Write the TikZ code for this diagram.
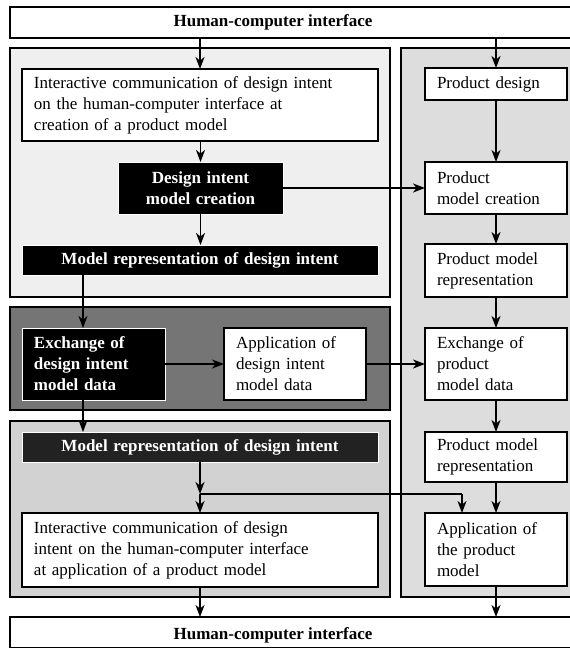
\documentclass[tikz,border=0pt]{standalone}
\usepackage{fontspec}
\setmainfont{Liberation Serif}
\usetikzlibrary{arrows.meta}

\begin{document}
\begin{tikzpicture}[x=1pt,y=-1pt,
  every node/.style={font=\fontsize{17}{21}\selectfont, inner ysep=0pt, outer sep=0pt},
  panel/.style={draw=black, line width=1.2pt, anchor=north west, inner sep=0pt},
  wbox/.style={draw=black, fill=white, line width=1.4pt, anchor=north west, align=left, inner xsep=12pt},
  bbox/.style={draw=white, fill=black, text=white, line width=1pt, anchor=north west,
    font=\fontsize{17}{21}\selectfont\bfseries, inner xsep=12pt},
  hcibox/.style={draw=black, fill=white, line width=1.2pt, anchor=north west, inner sep=0pt},
  arr/.style={-{Stealth[length=12pt,width=9pt,inset=3.5pt]}, line width=1.4pt},
  ln/.style={line width=1.4pt}]

\useasboundingbox (0,0) rectangle (570,648);
\fill[white] (0,0) rectangle (570,648);

% interfaces at top and bottom
\node[hcibox, minimum width=580pt, minimum height=31pt] (hcitop) at (10,7) {};
\node[font=\fontsize{17}{21}\selectfont\bfseries] (hcitoptxt) at (273,22) {Human-computer interface};
\node[hcibox, minimum width=580pt, minimum height=31pt] (hcibot) at (10,617) {};
\node[font=\fontsize{17}{21}\selectfont\bfseries] (hcibottxt) at (273,635) {Human-computer interface};

% grey panels
\node[panel, fill={rgb,255:red,239;green,239;blue,239}, minimum width=380pt, minimum height=249pt] (pcreate) at (10,48) {};
\node[panel, fill={rgb,255:red,117;green,117;blue,117}, minimum width=380pt, minimum height=103pt] (pexch) at (10,307) {};
\node[panel, fill={rgb,255:red,210;green,210;blue,210}, minimum width=380pt, minimum height=176pt] (papply) at (10,421) {};
\node[panel, fill={rgb,255:red,221;green,221;blue,221}, minimum width=189pt, minimum height=549pt] (pprod) at (401,48) {};

% design intent column
\node[wbox, minimum width=356pt, minimum height=72pt, text width=332pt] (icreate) at (22,69)
  {Interactive communication of design intent\\on the human-computer interface at\\creation of a product model};
\node[bbox, minimum width=165pt, minimum height=52pt, text width=141pt, align=center] (dimc) at (118,162)
  {Design intent\\model creation};
\node[bbox, minimum width=356pt, minimum height=30pt, text width=332pt, align=center] (mrep1) at (22,245)
  {Model representation of design intent};
\node[bbox, minimum width=143pt, minimum height=72pt, text width=119pt, align=left] (exdi) at (22,328)
  {Exchange of\\design intent\\model data};
\node[wbox, minimum width=142pt, minimum height=72pt, text width=118pt] (appdi) at (224,328)
  {Application of\\design intent\\model data};
\node[bbox, fill={rgb,255:red,34;green,34;blue,34}, minimum width=356pt, minimum height=30pt, text width=332pt, align=center] (mrep2) at (22,432)
  {Model representation of design intent};
\node[wbox, minimum width=356pt, minimum height=74pt, text width=332pt] (iapply) at (22,513)
  {Interactive communication of design\\intent on the human-computer interface\\at application of a product model};

% product model column
\node[wbox, minimum width=142pt, minimum height=32pt, text width=118pt] (pd) at (425,68) {Product design};
\node[wbox, minimum width=142pt, minimum height=52pt, text width=118pt] (pmc) at (425,162) {Product\\model creation};
\node[wbox, minimum width=142pt, minimum height=53pt, text width=118pt] (pmr1) at (425,244) {Product model\\representation};
\node[wbox, minimum width=142pt, minimum height=72pt, text width=118pt] (pex) at (425,328) {Exchange of\\product\\model data};
\node[wbox, minimum width=142pt, minimum height=50pt, text width=118pt] (pmr2) at (425,432) {Product model\\representation};
\node[wbox, minimum width=142pt, minimum height=73pt, text width=118pt] (pap) at (425,513) {Application of\\the product\\model};

% helper coordinates
\coordinate (xl) at (83,0);
\coordinate (j) at (200,494);
\coordinate (jr) at (462,494);

% connectors, design intent column
\draw[arr] (hcitop.south -| icreate.north) -- (icreate.north);
\draw[arr] (icreate.south -| dimc.north) -- (dimc.north);
\draw[arr] (dimc.south) -- (mrep1.north -| dimc.south);
\draw[arr] (mrep1.south -| xl) -- (exdi.north -| xl);
\draw[arr] (exdi.south -| xl) -- (mrep2.north -| xl);
\draw[arr] (exdi.east) -- (appdi.west |- exdi.east);
\draw[arr] (appdi.east) -- (pex.west |- appdi.east);
\draw[arr] (dimc.east) -- (pmc.west |- dimc.east);
\draw[arr] (mrep2.south -| j) -- (j);
\draw[arr] (j) -- (iapply.north -| j);
\draw[ln] (j) -- (jr);
\draw[arr] (jr) -- (pap.north -| jr);
\draw[arr] (iapply.south -| j) -- (hcibot.north -| j);

% connectors, product model column
\draw[arr] (hcitop.south -| pd.north) -- (pd.north);
\draw[arr] (pd.south) -- (pmc.north);
\draw[arr] (pmc.south) -- (pmr1.north);
\draw[arr] (pmr1.south) -- (pex.north);
\draw[arr] (pex.south) -- (pmr2.north);
\draw[arr] (pmr2.south) -- (pap.north);
\draw[arr] (pap.south) -- (hcibot.north -| pap.south);
\end{tikzpicture}
\end{document}
